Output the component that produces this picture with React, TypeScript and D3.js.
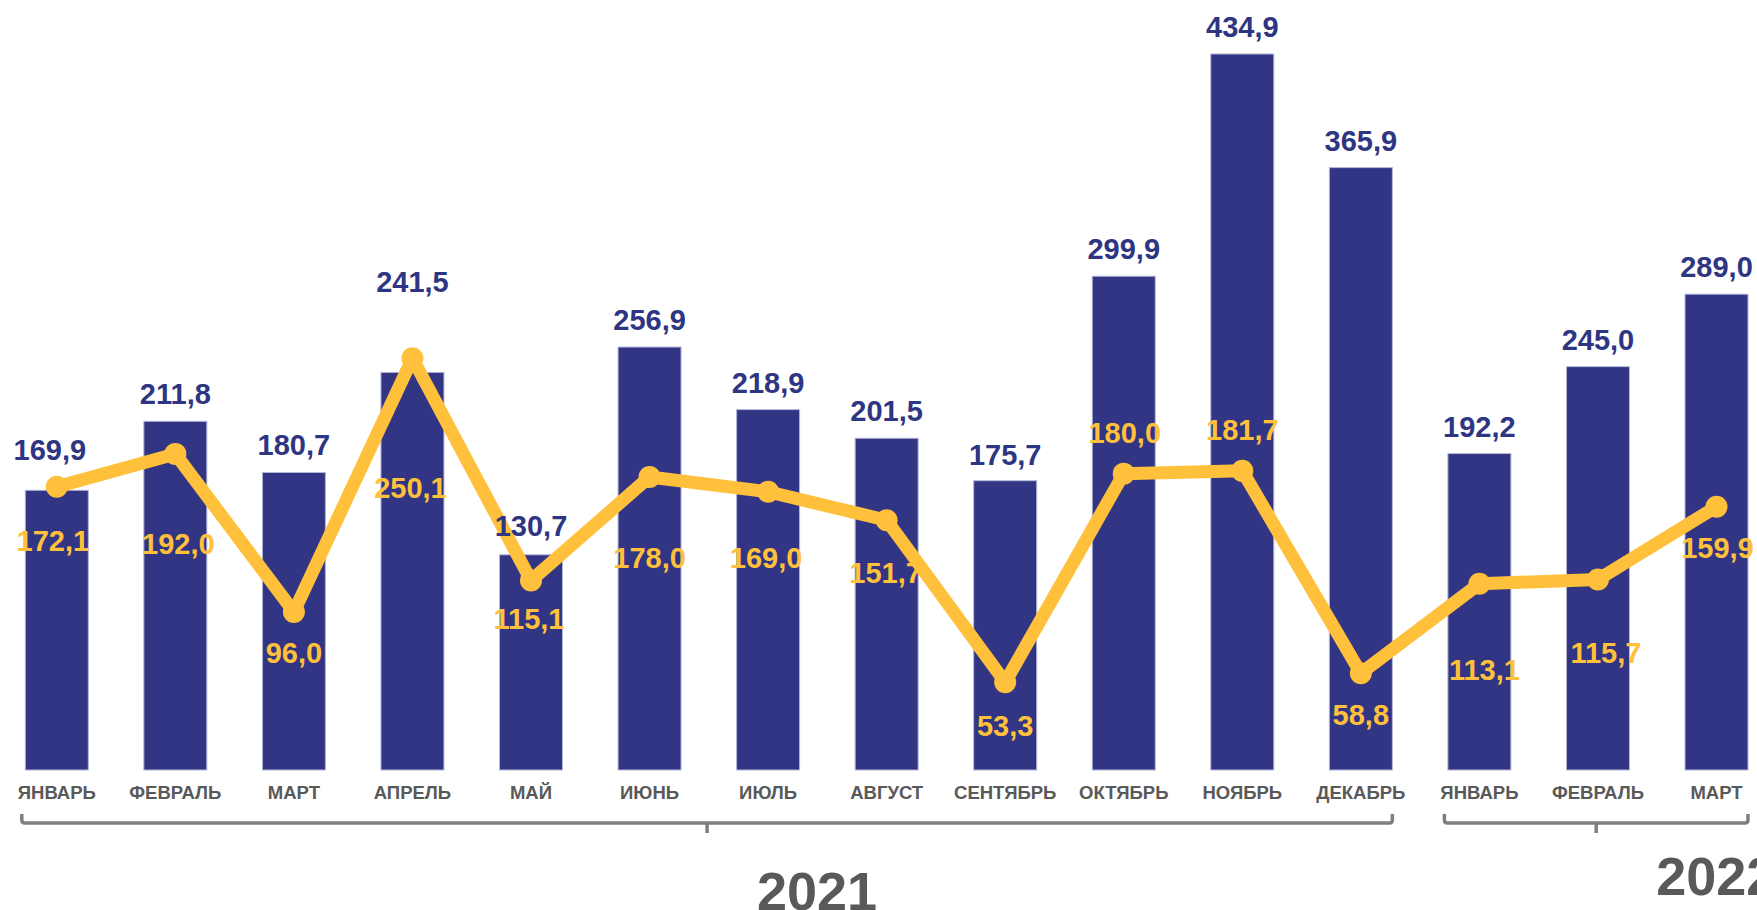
import React from "react";
import * as d3 from "d3";

const categories = ["ЯНВАРЬ","ФЕВРАЛЬ","МАРТ","АПРЕЛЬ","МАЙ","ИЮНЬ","ИЮЛЬ","АВГУСТ","СЕНТЯБРЬ","ОКТЯБРЬ","НОЯБРЬ","ДЕКАБРЬ","ЯНВАРЬ","ФЕВРАЛЬ","МАРТ"];
const barValues = [169.9, 211.8, 180.7, 241.5, 130.7, 256.9, 218.9, 201.5, 175.7, 299.9, 434.9, 365.9, 192.2, 245.0, 289.0];
const lineValues = [172.1, 192.0, 96.0, 250.1, 115.1, 178.0, 169.0, 151.7, 53.3, 180.0, 181.7, 58.8, 113.1, 115.7, 159.9];
const years = ["2021", "2022"];
const yearRanges = [[0, 11], [12, 14]];

// layout tweaks (label nudges, px)
const barLabelDx = [-7, 0, 0, 0, 0, 0, 0, 0, 0, 0, 0, 0, 0, 0, 0];
const barLabelDy = [-30, -17, -17, -80, -19, -17, -17, -17, -16, -17, -17, -17, -17, -17, -17];
const lineLabelDx = [-4, 3, 0, -2, -2, 0, -2, -1, 0, 1, 0, 0, 5, 8, 1];
const lineLabelDy = [64, 100, 51, 140, 49, 91, 76, 63, 54, -31, -31, 52, 96, 83, 51];
const yearDx = [110, 120];
const yearBaseline = [910, 895];

const W = 1757, H = 910;
const BAR = "#323583";
const LINE = "#FFC13B";
const GRAY = "#595959";
const FONT = "'Liberation Sans', Arial, Helvetica, sans-serif";

const fmt = (v: number) => d3.format(".1f")(v).replace(".", ",");

export default function App() {
  const step = 118.55;
  const pi = 0.4686;
  const po = pi / 2;
  const n = categories.length;
  const x0 = 25.3 - step * po;
  const x = d3.scaleBand<number>()
    .domain(d3.range(n))
    .range([x0, x0 + step * (n - pi + 2 * po)])
    .paddingInner(pi)
    .paddingOuter(po);
  const bw = x.bandwidth();
  const y = d3.scaleLinear().domain([0, 450]).range([770, 770 - 450 * 1.6464]);
  const cx = (i: number) => (x(i) as number) + bw / 2;

  const line = d3.line<number>()
    .x((_, i) => cx(i))
    .y((d) => y(d));

  return (
    <svg width={W} height={H} style={{ position: "absolute", left: 0, top: 0, background: "#fff" }}
      fontFamily={FONT} fontWeight="bold">
      {barValues.map((v, i) => (
        <rect key={"b" + i} x={x(i)} y={y(v)} width={bw} height={y(0) - y(v)}
          fill={BAR} stroke="#b4b6d8" strokeWidth={1} />
      ))}
      <path d={line(lineValues) || ""} fill="none" stroke={LINE} strokeWidth={13}
        strokeLinejoin="round" strokeLinecap="round" />
      {lineValues.map((v, i) => (
        <circle key={"c" + i} cx={cx(i)} cy={y(v)} r={11} fill={LINE} />
      ))}
      {barValues.map((v, i) => (
        <text key={"bl" + i} x={cx(i) + barLabelDx[i]} y={y(v) + barLabelDy[i]}
          textAnchor="middle" fontSize={29} fill="#2E3582">{fmt(v)}</text>
      ))}
      {lineValues.map((v, i) => (
        <text key={"ll" + i} x={cx(i) + lineLabelDx[i]} y={y(v) + lineLabelDy[i]}
          textAnchor="middle" fontSize={29} fill={LINE}>{fmt(v)}</text>
      ))}
      {categories.map((c, i) => (
        <text key={"cat" + i} x={cx(i)} y={798.5} textAnchor="middle" fontSize={18.5} fill={GRAY}>{c}</text>
      ))}
      {yearRanges.map(([a, b], k) => {
        const x1 = (x(a) as number) - 3.5;
        const x2 = (x(b) as number) + bw;
        const mid = (x1 + x2) / 2;
        const yTop = 814, yH = 823, r = 3;
        const d = `M${x1},${yTop} V${yH - r} Q${x1},${yH} ${x1 + r},${yH} H${x2 - r} Q${x2},${yH} ${x2},${yH - r} V${yTop} M${mid},${yH} V${833}`;
        return (
          <g key={"yr" + k}>
            <path d={d} fill="none" stroke="#7f7f7f" strokeWidth={3.5} />
            <text x={mid + yearDx[k]} y={yearBaseline[k]} textAnchor="middle" fontSize={54} fill={GRAY}>{years[k]}</text>
          </g>
        );
      })}
    </svg>
  );
}
